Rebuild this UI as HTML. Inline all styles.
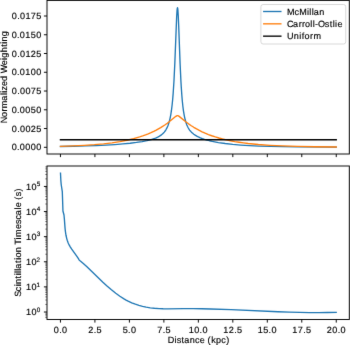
<!DOCTYPE html>
<html><head><meta charset="utf-8"><style>
html,body{margin:0;padding:0;background:#fff;width:350px;height:345px;overflow:hidden}
svg{display:block;will-change:transform}
text{text-rendering:geometricPrecision;stroke:#000;stroke-width:0.15px}
</style></head><body>
<svg width="350" height="345" viewBox="0 0 350 345">
<rect width="350" height="345" fill="#fff"/>
<filter id="bl" x="0" y="0" width="350" height="345" filterUnits="userSpaceOnUse" color-interpolation-filters="sRGB"><feConvolveMatrix order="3" kernelMatrix="0.00524 0.06192 0.00524 0.06192 0.73137 0.06192 0.00524 0.06192 0.00524" divisor="1" edgeMode="duplicate" preserveAlpha="true"/></filter>
<g filter="url(#bl)">
<rect width="350" height="345" fill="#fff"/>
<defs><clipPath id="ct"><rect x="47.00" y="0.40" width="302.30" height="153.60"/></clipPath><clipPath id="cb"><rect x="47.00" y="166.00" width="302.30" height="153.50"/></clipPath></defs>
<g clip-path="url(#ct)" fill="none" stroke-width="1.35" stroke-linejoin="round" stroke-linecap="square">
<polyline points="60.45,146.51 73.68,146.25 85.57,145.94 96.29,145.55 106.00,145.10 114.87,144.56 122.91,143.94 130.11,143.23 136.47,142.45 142.17,141.56 147.02,140.61 151.21,139.55 154.73,138.40 156.23,137.79 157.74,137.10 159.08,136.39 160.25,135.67 161.42,134.83 162.43,134.01 163.43,133.04 164.27,132.11 165.11,131.03 165.78,130.04 166.95,127.93 168.12,125.19 169.13,122.11 169.96,118.80 170.80,114.55 171.47,110.21 172.14,104.76 172.64,99.73 173.15,93.67 173.98,80.71 174.82,63.39 176.66,16.78 177.00,11.17 177.17,9.30 177.33,8.13 177.50,7.69 177.70,8.37 177.90,10.14 178.29,16.56 178.69,25.85 180.08,63.34 180.88,80.43 181.28,87.31 181.87,95.81 182.27,100.47 182.86,106.23 183.46,110.82 184.26,115.60 185.25,120.05 186.24,123.36 186.84,124.95 187.43,126.32 188.03,127.51 188.83,128.88 189.62,130.05 190.41,131.07 191.41,132.16 192.40,133.10 193.79,134.23 195.18,135.18 196.77,136.12 198.36,136.94 200.35,137.82 202.34,138.59 204.52,139.33 206.91,140.04 209.49,140.72 212.27,141.37 218.43,142.55 225.18,143.54 232.73,144.39 240.68,145.06 249.42,145.61 259.16,146.06 270.29,146.41 282.80,146.68 297.31,146.87 336.25,147.10" stroke="#1f77b4"/>
<polyline points="60.45,146.31 73.15,145.88 84.47,145.33 94.41,144.66 103.52,143.84 112.08,142.82 119.81,141.65 126.98,140.27 133.61,138.70 139.68,136.95 142.72,135.94 145.48,134.94 148.24,133.85 151.00,132.66 153.76,131.37 156.25,130.11 160.67,127.63 164.81,124.97 167.29,123.21 169.50,121.54 175.85,116.35 176.68,115.83 177.23,115.63 177.51,115.61 177.78,115.64 178.33,115.83 179.16,116.36 186.06,121.98 188.55,123.82 191.31,125.72 193.79,127.30 196.56,128.92 199.32,130.41 202.08,131.78 205.11,133.15 208.43,134.52 211.74,135.75 215.33,136.95 218.92,138.02 222.51,138.98 226.37,139.91 230.51,140.78 234.65,141.55 239.07,142.27 243.49,142.90 248.18,143.48 258.40,144.49 269.99,145.30 282.69,145.92 297.60,146.39 314.99,146.73 336.25,146.95" stroke="#ff7f0e"/>
<line x1="60.45" y1="139.75" x2="336.25" y2="139.75" stroke="#000"/>
</g>
<g clip-path="url(#cb)" fill="none"><polyline points="60.50,173.20 60.85,180.50 61.20,184.50 62.30,191.60 62.95,211.00 63.99,215.01 64.36,218.87 65.00,227.59 65.36,231.20 65.98,235.24 66.81,238.87 67.32,240.56 67.93,242.22 68.55,243.69 69.27,245.14 70.39,247.10 71.72,249.16 77.09,256.68 78.26,258.45 79.27,260.11 79.72,260.56 83.32,263.55 86.93,266.79 91.05,270.70 102.89,282.22 107.01,286.00 111.13,289.56 115.77,293.26 119.89,296.23 124.01,298.86 126.07,300.04 128.13,301.12 131.73,302.80 135.34,304.22 138.94,305.40 142.55,306.36 146.15,307.13 150.27,307.80 154.39,308.27 159.03,308.60 163.15,308.76 167.79,308.81 183.75,308.65 193.02,308.66 201.78,308.77 210.53,308.97 231.13,309.70 278.00,311.77 289.33,312.17 299.63,312.44 309.42,312.60 318.69,312.63 327.44,312.54 336.20,312.33" stroke="#1f77b4" stroke-width="1.35" stroke-linejoin="round" stroke-linecap="square"/></g>
<g stroke="#000" stroke-width="0.95" fill="none" stroke-linecap="square">
<rect x="47.00" y="0.40" width="302.30" height="153.60"/>
<rect x="47.00" y="166.00" width="302.30" height="153.50"/>
</g>
<g stroke="#000" stroke-width="0.95">
<line x1="60.45" y1="154.00" x2="60.45" y2="157.10"/>
<line x1="60.45" y1="319.50" x2="60.45" y2="322.60"/>
<line x1="94.92" y1="154.00" x2="94.92" y2="157.10"/>
<line x1="94.92" y1="319.50" x2="94.92" y2="322.60"/>
<line x1="129.40" y1="154.00" x2="129.40" y2="157.10"/>
<line x1="129.40" y1="319.50" x2="129.40" y2="322.60"/>
<line x1="163.88" y1="154.00" x2="163.88" y2="157.10"/>
<line x1="163.88" y1="319.50" x2="163.88" y2="322.60"/>
<line x1="198.35" y1="154.00" x2="198.35" y2="157.10"/>
<line x1="198.35" y1="319.50" x2="198.35" y2="322.60"/>
<line x1="232.82" y1="154.00" x2="232.82" y2="157.10"/>
<line x1="232.82" y1="319.50" x2="232.82" y2="322.60"/>
<line x1="267.30" y1="154.00" x2="267.30" y2="157.10"/>
<line x1="267.30" y1="319.50" x2="267.30" y2="322.60"/>
<line x1="301.77" y1="154.00" x2="301.77" y2="157.10"/>
<line x1="301.77" y1="319.50" x2="301.77" y2="322.60"/>
<line x1="336.25" y1="154.00" x2="336.25" y2="157.10"/>
<line x1="336.25" y1="319.50" x2="336.25" y2="322.60"/>
<line x1="43.90" y1="147.30" x2="47.00" y2="147.30"/>
<line x1="43.90" y1="128.54" x2="47.00" y2="128.54"/>
<line x1="43.90" y1="109.79" x2="47.00" y2="109.79"/>
<line x1="43.90" y1="91.03" x2="47.00" y2="91.03"/>
<line x1="43.90" y1="72.27" x2="47.00" y2="72.27"/>
<line x1="43.90" y1="53.51" x2="47.00" y2="53.51"/>
<line x1="43.90" y1="34.76" x2="47.00" y2="34.76"/>
<line x1="43.90" y1="16.00" x2="47.00" y2="16.00"/>
<line x1="43.90" y1="312.00" x2="47.00" y2="312.00"/>
<line x1="43.90" y1="286.89" x2="47.00" y2="286.89"/>
<line x1="43.90" y1="261.78" x2="47.00" y2="261.78"/>
<line x1="43.90" y1="236.67" x2="47.00" y2="236.67"/>
<line x1="43.90" y1="211.56" x2="47.00" y2="211.56"/>
<line x1="43.90" y1="186.45" x2="47.00" y2="186.45"/>
</g>
<g stroke="#000" stroke-width="0.50">
<line x1="45.25" y1="317.57" x2="47.00" y2="317.57"/>
<line x1="45.25" y1="315.89" x2="47.00" y2="315.89"/>
<line x1="45.25" y1="314.43" x2="47.00" y2="314.43"/>
<line x1="45.25" y1="313.15" x2="47.00" y2="313.15"/>
<line x1="45.25" y1="304.44" x2="47.00" y2="304.44"/>
<line x1="45.25" y1="300.02" x2="47.00" y2="300.02"/>
<line x1="45.25" y1="296.88" x2="47.00" y2="296.88"/>
<line x1="45.25" y1="294.45" x2="47.00" y2="294.45"/>
<line x1="45.25" y1="292.46" x2="47.00" y2="292.46"/>
<line x1="45.25" y1="290.78" x2="47.00" y2="290.78"/>
<line x1="45.25" y1="289.32" x2="47.00" y2="289.32"/>
<line x1="45.25" y1="288.04" x2="47.00" y2="288.04"/>
<line x1="45.25" y1="279.33" x2="47.00" y2="279.33"/>
<line x1="45.25" y1="274.91" x2="47.00" y2="274.91"/>
<line x1="45.25" y1="271.77" x2="47.00" y2="271.77"/>
<line x1="45.25" y1="269.34" x2="47.00" y2="269.34"/>
<line x1="45.25" y1="267.35" x2="47.00" y2="267.35"/>
<line x1="45.25" y1="265.67" x2="47.00" y2="265.67"/>
<line x1="45.25" y1="264.21" x2="47.00" y2="264.21"/>
<line x1="45.25" y1="262.93" x2="47.00" y2="262.93"/>
<line x1="45.25" y1="254.22" x2="47.00" y2="254.22"/>
<line x1="45.25" y1="249.80" x2="47.00" y2="249.80"/>
<line x1="45.25" y1="246.66" x2="47.00" y2="246.66"/>
<line x1="45.25" y1="244.23" x2="47.00" y2="244.23"/>
<line x1="45.25" y1="242.24" x2="47.00" y2="242.24"/>
<line x1="45.25" y1="240.56" x2="47.00" y2="240.56"/>
<line x1="45.25" y1="239.10" x2="47.00" y2="239.10"/>
<line x1="45.25" y1="237.82" x2="47.00" y2="237.82"/>
<line x1="45.25" y1="229.11" x2="47.00" y2="229.11"/>
<line x1="45.25" y1="224.69" x2="47.00" y2="224.69"/>
<line x1="45.25" y1="221.55" x2="47.00" y2="221.55"/>
<line x1="45.25" y1="219.12" x2="47.00" y2="219.12"/>
<line x1="45.25" y1="217.13" x2="47.00" y2="217.13"/>
<line x1="45.25" y1="215.45" x2="47.00" y2="215.45"/>
<line x1="45.25" y1="213.99" x2="47.00" y2="213.99"/>
<line x1="45.25" y1="212.71" x2="47.00" y2="212.71"/>
<line x1="45.25" y1="204.00" x2="47.00" y2="204.00"/>
<line x1="45.25" y1="199.58" x2="47.00" y2="199.58"/>
<line x1="45.25" y1="196.44" x2="47.00" y2="196.44"/>
<line x1="45.25" y1="194.01" x2="47.00" y2="194.01"/>
<line x1="45.25" y1="192.02" x2="47.00" y2="192.02"/>
<line x1="45.25" y1="190.34" x2="47.00" y2="190.34"/>
<line x1="45.25" y1="188.88" x2="47.00" y2="188.88"/>
<line x1="45.25" y1="187.60" x2="47.00" y2="187.60"/>
<line x1="45.25" y1="178.89" x2="47.00" y2="178.89"/>
<line x1="45.25" y1="174.47" x2="47.00" y2="174.47"/>
<line x1="45.25" y1="171.33" x2="47.00" y2="171.33"/>
<line x1="45.25" y1="168.90" x2="47.00" y2="168.90"/>
<line x1="45.25" y1="166.91" x2="47.00" y2="166.91"/>
</g>
<g font-family="Liberation Sans, sans-serif" font-size="9.06" fill="#000">
<text x="11.65 16.99 19.81 25.25 30.69 36.13" y="150.40">0.0000</text>
<text x="11.83 17.17 19.99 25.43 30.75 36.27" y="131.64">0.0025</text>
<text x="11.65 16.99 19.81 25.25 30.65 36.13" y="112.89">0.0050</text>
<text x="11.83 17.17 19.99 25.43 30.85 36.27" y="94.13">0.0075</text>
<text x="11.65 16.99 19.81 25.20 30.69 36.13" y="75.37">0.0100</text>
<text x="11.83 17.17 19.99 25.38 30.75 36.27" y="56.61">0.0125</text>
<text x="11.65 16.99 19.81 25.20 30.65 36.13" y="37.86">0.0150</text>
<text x="11.83 17.17 19.99 25.38 30.85 36.27" y="19.10">0.0175</text>
<text x="26.01 31.50" y="315.20">10</text>
<text x="36.74" y="311.80" font-size="6.34">0</text>
<text x="26.01 31.50" y="290.09">10</text>
<text x="36.45" y="286.69" font-size="6.34">1</text>
<text x="26.01 31.50" y="264.98">10</text>
<text x="36.62" y="261.58" font-size="6.34">2</text>
<text x="26.01 31.50" y="239.87">10</text>
<text x="36.69" y="236.47" font-size="6.34">3</text>
<text x="26.01 31.50" y="214.76">10</text>
<text x="36.85" y="211.36" font-size="6.34">4</text>
<text x="26.01 31.50" y="189.65">10</text>
<text x="36.65" y="186.25" font-size="6.34">5</text>
<text x="53.85 59.19 62.01" y="332.65">0.0</text>
<text x="88.27 93.72 96.51" y="332.65">2.5</text>
<text x="122.72 128.09 130.91" y="332.65">5.0</text>
<text x="157.28 162.64 165.42" y="332.65">7.5</text>
<text x="188.80 194.28 199.62 202.44" y="332.65">10.0</text>
<text x="223.36 228.74 234.19 236.97" y="332.65">12.5</text>
<text x="257.75 263.20 268.57 271.39" y="332.65">15.0</text>
<text x="292.31 297.78 303.14 305.92" y="332.65">17.5</text>
<text x="326.79 332.34 337.68 340.50" y="332.65">20.0</text>
<text x="167.78 174.49 176.68 181.48 184.19 189.82 194.99 199.80 205.01 207.54 211.19 216.08 221.21 226.29" y="343.45">Distance (kpc)</text>
<text transform="translate(6.75,0) rotate(-90)" x="-123.36 -116.91 -111.47 -108.21 -100.65 -95.09 -92.76 -90.62 -86.12 -80.95 -75.66 -73.20 -65.20 -59.96 -57.71 -52.34 -46.81 -43.73 -41.41 -36.16" y="0">Normalized Weighting</text>
<text transform="translate(21.20,0) rotate(-90)" x="-296.76 -291.16 -286.31 -283.97 -278.43 -275.33 -273.00 -270.66 -268.74 -262.95 -259.85 -257.62 -252.36 -247.11 -244.71 -239.46 -236.94 -229.00 -223.92 -219.57 -215.15 -209.57 -207.30 -202.13 -199.63 -196.26 -191.50" y="0">Scintillation Timescale (s)</text>
</g>
<rect x="260.9" y="4.5" width="84.85" height="39.5" rx="2.2" ry="2.2" fill="#fff" fill-opacity="0.8" stroke="#ccc" stroke-opacity="0.8" stroke-width="0.95"/>
<g font-family="Liberation Sans, sans-serif" font-size="9.06" fill="#000">
<line x1="263.75" y1="11.50" x2="280.85" y2="11.50" stroke="#1f77b4" stroke-width="1.35" stroke-linecap="square"/>
<text x="287.09 294.56 299.23 306.90 309.28 311.67 313.66 319.36" y="14.55">McMillan</text>
<line x1="263.75" y1="23.83" x2="280.85" y2="23.83" stroke="#ff7f0e" stroke-width="1.35" stroke-linecap="square"/>
<text x="286.91 292.94 298.77 302.10 305.08 310.36 312.71 314.91 318.00 324.85 329.64 332.75 335.11 337.39" y="26.83">Carroll-Ostlie</text>
<line x1="263.75" y1="36.16" x2="280.85" y2="36.16" stroke="#000" stroke-width="1.35" stroke-linecap="square"/>
<text x="287.12 293.76 299.17 301.73 304.49 310.06 313.45" y="39.11">Uniform</text>
</g>
</g>
</svg>
</body></html>
